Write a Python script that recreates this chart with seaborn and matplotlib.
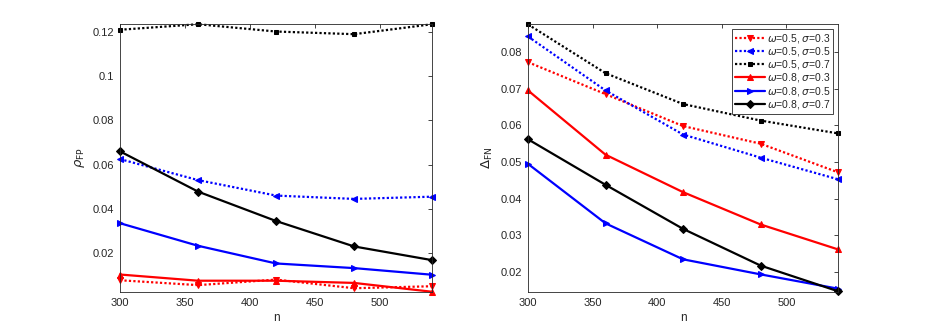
import matplotlib
matplotlib.use("Agg")
import matplotlib.pyplot as plt
import seaborn as sns
import pandas as pd

n_values = [300, 360, 420, 480, 540]

labels = [r"$\omega$=0.5, $\sigma$=0.3", r"$\omega$=0.5, $\sigma$=0.5", r"$\omega$=0.5, $\sigma$=0.7",
          r"$\omega$=0.8, $\sigma$=0.3", r"$\omega$=0.8, $\sigma$=0.5", r"$\omega$=0.8, $\sigma$=0.7"]

# Left panel: rho_FP
fp_w05_s03 = [0.0077, 0.0055, 0.0080, 0.0041, 0.0050]
fp_w05_s05 = [0.0625, 0.0530, 0.0460, 0.0445, 0.0455]
fp_w05_s07 = [0.1210, 0.1235, 0.1202, 0.1190, 0.1235]
fp_w08_s03 = [0.0103, 0.0075, 0.0075, 0.0065, 0.0025]
fp_w08_s05 = [0.0335, 0.0233, 0.0153, 0.0132, 0.0102]
fp_w08_s07 = [0.0660, 0.0478, 0.0345, 0.0230, 0.0168]

# Right panel: Delta_FN
fn_w05_s03 = [0.0772, 0.0685, 0.0598, 0.0550, 0.0472]
fn_w05_s05 = [0.0842, 0.0695, 0.0575, 0.0512, 0.0453]
fn_w05_s07 = [0.0875, 0.0742, 0.0658, 0.0613, 0.0578]
fn_w08_s03 = [0.0695, 0.0520, 0.0418, 0.0330, 0.0262]
fn_w08_s05 = [0.0495, 0.0333, 0.0235, 0.0194, 0.0155]
fn_w08_s07 = [0.0562, 0.0438, 0.0318, 0.0218, 0.0148]

fp_series = [fp_w05_s03, fp_w05_s05, fp_w05_s07, fp_w08_s03, fp_w08_s05, fp_w08_s07]
fn_series = [fn_w05_s03, fn_w05_s05, fn_w05_s07, fn_w08_s03, fn_w08_s05, fn_w08_s07]

colors = ["#ff0000", "#0000ff", "#000000", "#ff0000", "#0000ff", "#000000"]
styles = [(0, (1, 1)), (0, (1, 1)), (0, (1, 1)), "-", "-", "-"]
markers = ["v", "<", "s", "^", ">", "D"]
msizes = [5, 5, 3.5, 5, 5, 4.5]

sns.set_theme(style="white")
plt.rcParams['font.family'] = ['Liberation Sans', 'DejaVu Sans']
plt.rcParams['mathtext.fontset'] = 'dejavusans'

fig = plt.figure(figsize=(9.26, 3.28), dpi=100)
ax1 = fig.add_axes([0.1296, 0.1098, 0.337, 0.817])
ax2 = fig.add_axes([0.5702, 0.1098, 0.3348, 0.817])

def draw(ax, series):
    for vals, c, ls, m, ms, lab in zip(series, colors, styles, markers, msizes, labels):
        df = pd.DataFrame({"n": n_values, "v": vals})
        sns.lineplot(data=df, x="n", y="v", ax=ax, color=c, linestyle=ls, linewidth=1.6,
                     marker=m, markersize=ms, markeredgecolor=c, markerfacecolor=c,
                     label=lab, legend=False, clip_on=False)
    ax.set_xlim(300, 540)
    ax.set_xticks([300, 350, 400, 450, 500])
    ax.tick_params(direction="in", top=True, right=True, length=3, width=0.6,
                   colors="#262626", labelsize=8, pad=4)
    for sp in ax.spines.values():
        sp.set_color("#262626")
        sp.set_linewidth(0.6)
    ax.set_xlabel("n", fontsize=8.5, color="#262626", labelpad=3)

draw(ax1, fp_series)
ax1.set_ylim(0.0024, 0.1236)
ax1.set_yticks([0.02, 0.04, 0.06, 0.08, 0.1, 0.12])
ax1.set_yticklabels(["0.02", "0.04", "0.06", "0.08", "0.1", "0.12"])
ax1.set_ylabel(r"$\rho_{\mathrm{FP}}$", fontsize=9.5, color="#262626", labelpad=4)

draw(ax2, fn_series)
ax2.set_ylim(0.0146, 0.0876)
ax2.set_yticks([0.02, 0.03, 0.04, 0.05, 0.06, 0.07, 0.08])
ax2.set_yticklabels(["0.02", "0.03", "0.04", "0.05", "0.06", "0.07", "0.08"])
ax2.set_ylabel(r"$\Delta_{\mathrm{FN}}$", fontsize=9.5, color="#262626", labelpad=4)

leg = ax2.legend(loc="upper right", fontsize=7.5, frameon=True, fancybox=False,
                 edgecolor="#262626", framealpha=1, borderpad=0.3, labelspacing=0.02,
                 handlelength=2.8, handletextpad=0.2, borderaxespad=0.45)
leg.get_frame().set_linewidth(0.6)

fig.savefig("out.png", dpi=100)
